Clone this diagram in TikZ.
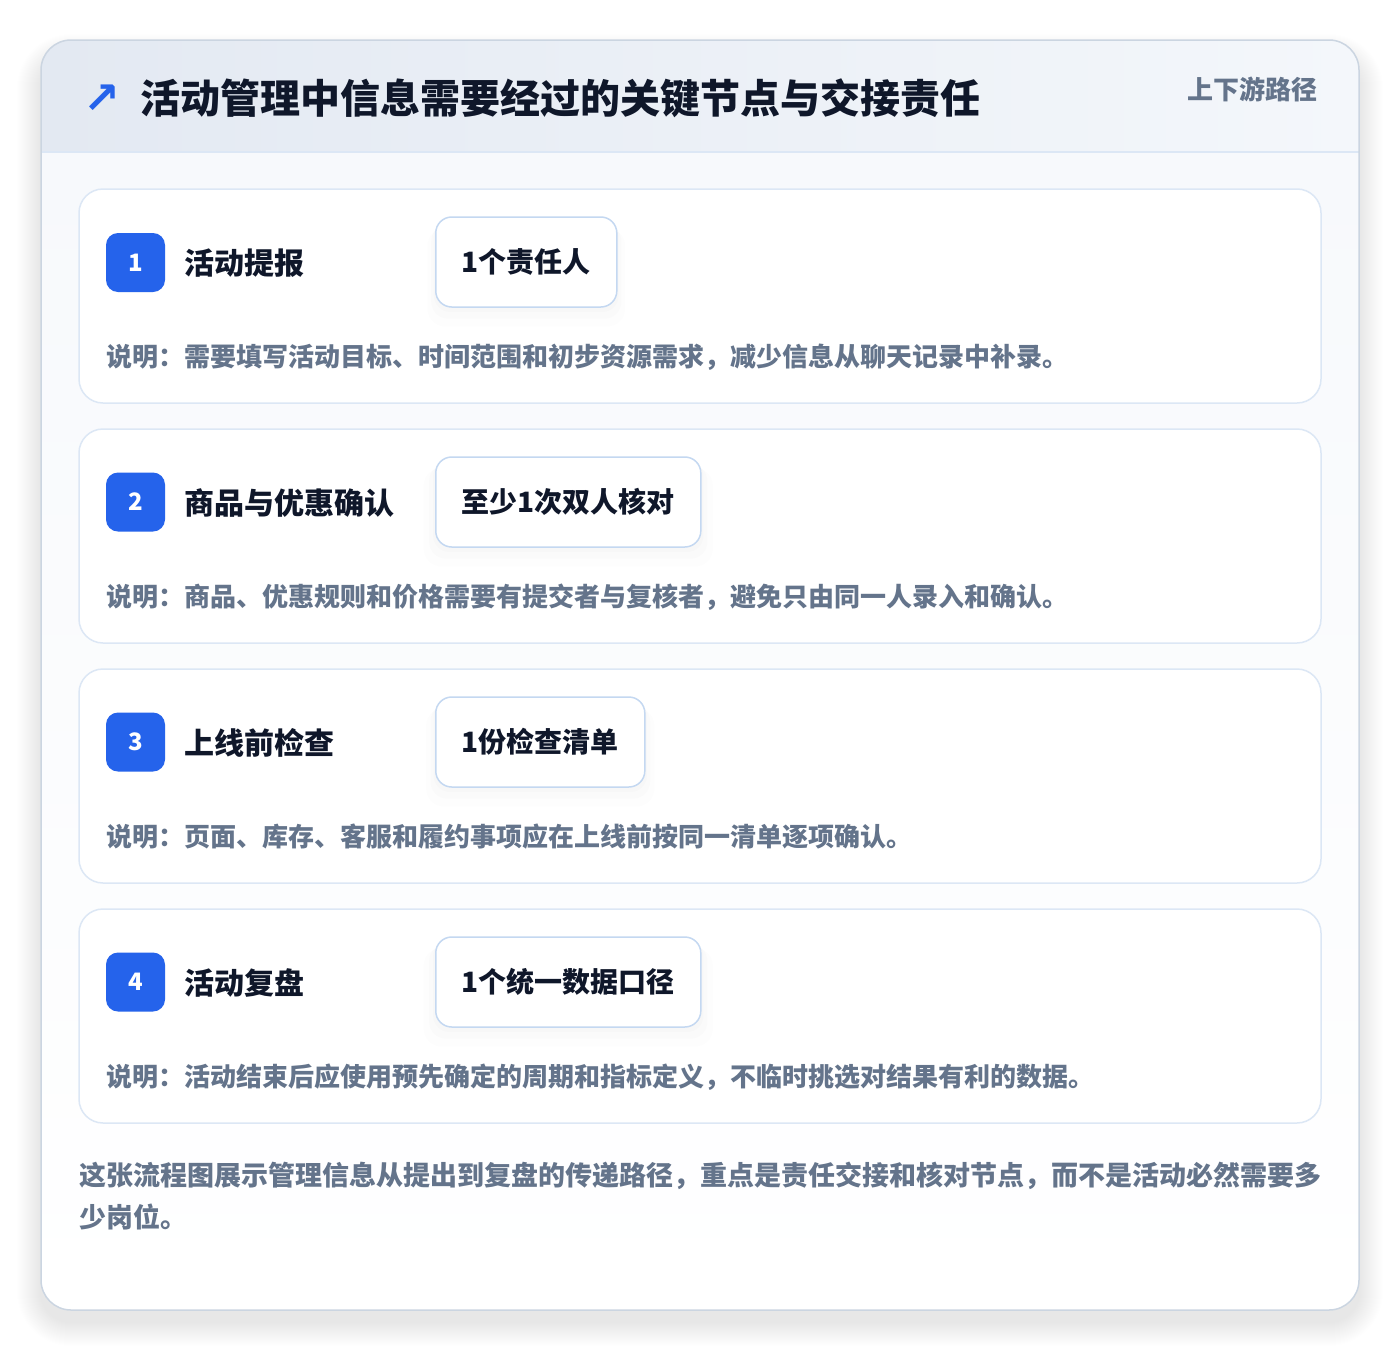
\documentclass[tikz,border=0pt]{standalone}
\usepackage{fontspec}
\setmainfont{Noto Sans CJK SC}
\newfontfamily\symfont{DejaVu Sans}
\usetikzlibrary{shadows}
\definecolor{ink}{HTML}{0F172A}
\definecolor{muted}{HTML}{64748B}
\definecolor{brand}{HTML}{2563EB}
\definecolor{edge}{HTML}{DCE7F5}
\definecolor{tagedge}{HTML}{C4D8F1}
\definecolor{frame}{HTML}{CBD5E1}
\definecolor{headl}{HTML}{E3E9F2}
\definecolor{headr}{HTML}{F4F7FB}
\definecolor{bodytop}{HTML}{F7F9FC}
\tikzstyle{card}=[draw=edge, line width=1.5pt, fill=white, rounded corners=24pt]
\tikzstyle{badge}=[fill=brand, text=white, rounded corners=12pt, minimum size=59pt, inner sep=0pt, font=\fontsize{24}{24}\selectfont\bfseries]
\tikzstyle{steptitle}=[anchor=west, inner sep=0pt, text=ink, font=\fontsize{30}{30}\selectfont\bfseries]
\tikzstyle{tagbox}=[anchor=west, draw=tagedge, line width=1.5pt, fill=white, rounded corners=16pt, minimum height=90pt, inner xsep=26pt, text=ink, font=\fontsize{28}{28}\selectfont\bfseries,
    drop shadow={opacity=0.025, shadow xshift=0pt, shadow yshift=-4pt, shadow scale=1.02},
    drop shadow={opacity=0.02, shadow xshift=0pt, shadow yshift=-9pt, shadow scale=1.05},
    drop shadow={opacity=0.015, shadow xshift=0pt, shadow yshift=-14pt, shadow scale=1.09}]
\tikzstyle{desc}=[anchor=west, inner sep=0pt, text=muted, font=\fontsize{26}{26}\selectfont\bfseries]

\begin{document}
\begin{tikzpicture}[x=1pt, y=-1pt]
    \useasboundingbox (0,0) rectangle (1400,1352);
% Soft shadow of the panel
    \foreach \s [evaluate=\s as \rr using 30+\s] in {1,...,24}
        \fill[black, opacity=0.005, rounded corners=\rr pt] (41-\s,40-\s+18) rectangle (1359+\s,1310+\s+12);
% Panel
    \begin{scope}
        \clip[rounded corners=30pt] (41,40) rectangle (1359,1310);
        \shade[left color=headl, right color=headr] (41,40) rectangle (1359,152);
        \shade[top color=bodytop, bottom color=white] (41,152) rectangle (1359,1310);
    \end{scope}
    \draw[edge, line width=1.5pt] (41,152) -- (1359,152);
    \draw[frame, line width=1.5pt, rounded corners=30pt] (41,40) rectangle (1359,1310);
% Header
    \node[text=brand, inner sep=0pt, font=\symfont\bfseries\fontsize{44}{44}\selectfont] (arrow) at (102,99) {↗};
    \node[anchor=west, inner sep=0pt, text=ink, font=\fontsize{40}{40}\selectfont\bfseries] (title) at (140,98) {活动管理中信息需要经过的关键节点与交接责任};
    \node[anchor=east, inner sep=0pt, text=muted, font=\fontsize{26}{26}\selectfont\bfseries] (route) at (1318,89) {上下游路径};
% Cards
    \draw[card] (79,189) rectangle (1321,403);
    \draw[card] (79,429) rectangle (1321,643);
    \draw[card] (79,669) rectangle (1321,883);
    \draw[card] (79,909) rectangle (1321,1123);
% Step 1
    \node[badge] (b1) at (135.5,262.5) {1};
    \node[steptitle] (t1) at (184,263) {活动提报};
    \node[tagbox] (g1) at (435,262) {1个责任人};
    \node[desc] (d1) at (106,357) {说明：需要填写活动目标、时间范围和初步资源需求，减少信息从聊天记录中补录。};
% Step 2
    \node[badge] (b2) at (135.5,502) {2};
    \node[steptitle] (t2) at (184,503) {商品与优惠确认};
    \node[tagbox] (g2) at (435,502) {至少1次双人核对};
    \node[desc] (d2) at (106,597) {说明：商品、优惠规则和价格需要有提交者与复核者，避免只由同一人录入和确认。};
% Step 3
    \node[badge] (b3) at (135.5,742) {3};
    \node[steptitle] (t3) at (184,743) {上线前检查};
    \node[tagbox] (g3) at (435,742) {1份检查清单};
    \node[desc] (d3) at (106,837) {说明：页面、库存、客服和履约事项应在上线前按同一清单逐项确认。};
% Step 4
    \node[badge] (b4) at (135.5,982) {4};
    \node[steptitle] (t4) at (184,983) {活动复盘};
    \node[tagbox] (g4) at (435,982) {1个统一数据口径};
    \node[desc] (d4) at (106,1077) {说明：活动结束后应使用预先确定的周期和指标定义，不临时挑选对结果有利的数据。};
% Closing note
    \node[anchor=west, inner sep=0pt, align=left, text=muted, font=\fontsize{27}{42}\selectfont\bfseries] (note) at (79,1196) {这张流程图展示管理信息从提出到复盘的传递路径，重点是责任交接和核对节点，而不是活动必然需要多\\少岗位。};
\end{tikzpicture}
\end{document}
